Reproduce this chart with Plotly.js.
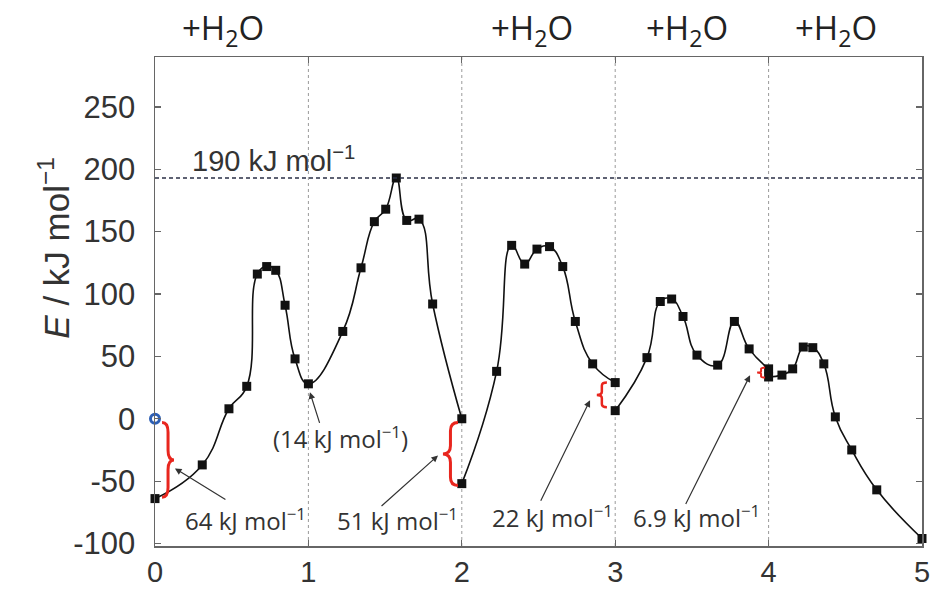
<!DOCTYPE html>
<html>
<head>
<meta charset="utf-8">
<script src="https://cdn.plot.ly/plotly-3.0.1.min.js"></script>
<style>html,body{margin:0;padding:0;background:#fff;}#chart{width:933px;height:590px;}</style>
</head>
<body>
<div id="chart"></div>
<script>
// Reaction coordinate segments (each starts after a water molecule is added)
const seg1X = [0, 0.308, 0.482, 0.598, 0.667, 0.728, 0.787, 0.848, 0.913, 1.0, 1.224, 1.343, 1.430, 1.504, 1.573, 1.641, 1.721, 1.810, 2.0];
const seg1E = [-64, -37, 8, 26, 116, 122, 119, 91, 48, 28, 70, 121, 158, 168, 193, 159, 160, 92, 0];
const seg2X = [2.0, 2.227, 2.325, 2.41, 2.49, 2.572, 2.658, 2.74, 2.853, 3.0];
const seg2E = [-52, 38, 139, 124, 136, 138, 122, 78, 44, 29];
const seg3X = [3.0, 3.207, 3.294, 3.368, 3.442, 3.533, 3.668, 3.777, 3.873, 4.0];
const seg3E = [6.5, 49, 94, 96, 82, 51, 43, 78, 56, 40];
const seg4X = [4.0, 4.087, 4.157, 4.226, 4.288, 4.36, 4.435, 4.542, 4.705, 5.0];
const seg4E = [33.5, 35, 40, 57.5, 57, 44, 1.5, -25, -57, -96];
const startX = [0];
const startE = [0];
const barrierE = 193;
const barrierLabel = '190 kJ mol<sup>\u22121</sup>';
const waterX = [0.443, 2.46, 3.47, 4.44];
const gapLabels = ['64 kJ mol<sup>\u22121</sup>', '51 kJ mol<sup>\u22121</sup>', '22 kJ mol<sup>\u22121</sup>', '6.9 kJ mol<sup>\u22121</sup>'];
const midLabel = '(14 kJ mol<sup>\u22121</sup>)';
const xTicks = [0, 1, 2, 3, 4, 5];
const yTicks = [-100, -50, 0, 50, 100, 150, 200, 250];

const lineStyle = {color: '#111', width: 1.6, shape: 'spline', smoothing: 1.3};
const markerStyle = {symbol: 'square', size: 9, color: '#111'};
function seg(x, y) {
  return {x: x, y: y, type: 'scatter', mode: 'lines+markers', line: lineStyle, marker: markerStyle, cliponaxis: false, hoverinfo: 'skip', showlegend: false};
}
const traces = [seg(seg1X, seg1E), seg(seg2X, seg2E), seg(seg3X, seg3E), seg(seg4X, seg4E),
  {x: startX, y: startE, type: 'scatter', mode: 'markers', cliponaxis: false, showlegend: false,
   marker: {symbol: 'circle-open', size: 9, color: '#2d5fb5', line: {width: 3, color: '#2d5fb5'}}}];

function brace(xl, xr, yt, yb) {
  // curly brace whose tip points toward xr
  const xm = (xl + xr) / 2, ym = (yt + yb) / 2, h = (yt - yb) * 0.13;
  return 'M' + xl + ',' + yt + ' Q' + xm + ',' + yt + ' ' + xm + ',' + (yt - h) +
    ' L' + xm + ',' + (ym + h) + ' Q' + xm + ',' + ym + ' ' + xr + ',' + ym +
    ' Q' + xm + ',' + ym + ' ' + xm + ',' + (ym - h) + ' L' + xm + ',' + (yb + h) +
    ' Q' + xm + ',' + yb + ' ' + xl + ',' + yb;
}
const red = '#e8261e';
const shapes = [];
[1, 2, 3, 4].forEach(v => shapes.push({type: 'line', xref: 'x', yref: 'paper', x0: v, x1: v, y0: 0, y1: 1,
  line: {color: '#9a9a9a', width: 1, dash: 'dot'}, layer: 'below'}));
shapes.push({type: 'line', xref: 'paper', yref: 'y', x0: 0, x1: 1, y0: barrierE, y1: barrierE,
  line: {color: '#2a2f45', width: 1.5, dash: '4px,3px'}});
shapes.push({type: 'path', xref: 'x', yref: 'y', path: brace(0.046, 0.124, seg1E[0] + 61, seg1E[0] + 1), line: {color: red, width: 3}});
shapes.push({type: 'path', xref: 'x', yref: 'y', path: brace(1.975, 1.877, -3, -53.5), line: {color: red, width: 3}});
shapes.push({type: 'path', xref: 'x', yref: 'y', path: brace(2.946, 2.88, 29, 9.2), line: {color: red, width: 2.5}});
shapes.push({type: 'path', xref: 'x', yref: 'y', path: brace(3.977, 3.925, 41, 33), line: {color: red, width: 2}});

const annFont = {family: 'Open Sans, sans-serif', size: 24, color: '#333'};
const annotations = [];
waterX.forEach(x => annotations.push({x: x, y: 1.056, xref: 'x', yref: 'paper', yanchor: 'middle', text: '+H<sub>2</sub>O', showarrow: false,
  font: {family: 'Open Sans, sans-serif', size: 33, color: '#222'}}));
annotations.push({x: 0.77, y: 208, xref: 'x', yref: 'y', text: barrierLabel, showarrow: false,
  font: {family: 'Liberation Sans, Arial, sans-serif', size: 29, color: '#333'}});
const textPos = [[0.593, -80.5], [1.578, -80.5], [2.594, -78.5], [3.533, -78.5]];
textPos.forEach((p, i) => annotations.push({x: p[0], y: p[1], xref: 'x', yref: 'y', text: gapLabels[i], showarrow: false, font: annFont}));
annotations.push({x: 1.206, y: -15, xref: 'x', yref: 'y', text: midLabel, showarrow: false, font: annFont});
const arrows = [[0.469, -65.5, 0.130, -39.8], [1.467, -71, 1.845, -29.4], [2.51, -67, 2.836, 14.8], [3.455, -69.5, 3.879, 34.8], [1.076, -4.5, 1.01, 21.2]];
arrows.forEach(a => annotations.push({x: a[2], y: a[3], ax: a[0], ay: a[1], xref: 'x', yref: 'y', axref: 'x', ayref: 'y', text: '',
  showarrow: true, arrowhead: 2, arrowsize: 1.1, arrowwidth: 1.2, arrowcolor: '#333', standoff: 0, startstandoff: 0}));
annotations.push({x: -0.163, y: 0.61, xref: 'paper', yref: 'paper', textangle: -90, showarrow: false,
  text: '<i>E</i> / kJ mol<sup>\u22121</sup>', font: {family: 'Liberation Sans, Arial, sans-serif', size: 35, color: '#333'}});

const axisCommon = {showline: true, linecolor: '#666', linewidth: 1.5, mirror: 'ticks', ticks: 'inside', ticklen: 6,
  tickcolor: '#666', tickwidth: 1.2, showgrid: false, zeroline: false};
const tickFontY = {family: 'Liberation Sans, Arial, sans-serif', size: 31, color: '#333'};
const tickFontX = {family: 'Liberation Sans, Arial, sans-serif', size: 29, color: '#333'};
const layout = {
  width: 933, height: 590, paper_bgcolor: '#fff', plot_bgcolor: '#fff',
  margin: {l: 155, r: 11, t: 57, b: 44},
  xaxis: Object.assign({}, axisCommon, {range: [0, 5], tickvals: xTicks, ticktext: xTicks.map(String), tickfont: tickFontX, ticklabelstandoff: 0}),
  yaxis: Object.assign({}, axisCommon, {range: [-102, 290], tickvals: yTicks, ticktext: yTicks.map(String), tickfont: tickFontY, ticklabelstandoff: 12}),
  shapes: shapes, annotations: annotations, showlegend: false
};
Plotly.newPlot('chart', traces, layout, {displayModeBar: false, staticPlot: true});
</script>
</body>
</html>
